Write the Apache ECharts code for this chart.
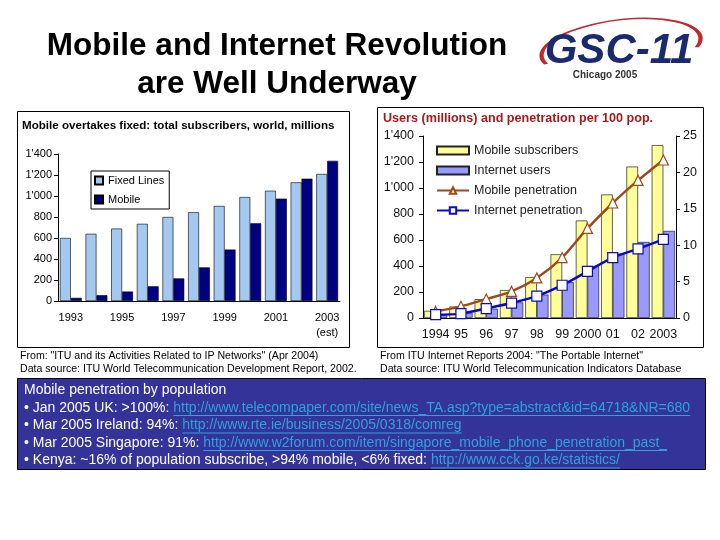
<!DOCTYPE html>
<html><head><meta charset="utf-8">
<script src="https://cdn.jsdelivr.net/npm/echarts@6/dist/echarts.min.js"></script>
<style>html,body{margin:0;padding:0;background:#fff}#c{width:720px;height:540px}</style>
</head><body><div id="c"></div>
<script>
// ---- Left chart data ----
const leftYears = ['1993','1994','1995','1996','1997','1998','1999','2000','2001','2002','2003'];
const fixedLines = [600,640,690,735,800,845,905,990,1050,1130,1210];
const mobileWorld = [30,55,90,140,215,320,490,740,975,1165,1335];
// ---- Right chart data ----
const rightYears = ['1994','95','96','97','98','99','2000','01','02','2003'];
const mobileSubs = [55,88,145,215,315,490,750,950,1165,1330];
const internetUsers = [22,40,72,120,180,275,400,495,585,670];
const mobilePen = [0.9,1.6,2.6,3.65,5.5,8.3,12.3,15.8,18.9,21.7];
const internetPen = [0.45,0.6,1.3,2.05,3.0,4.5,6.4,8.3,9.5,10.8];
// ---- Texts ----
const bulletLines = [
  ['• Jan 2005 UK: >100%: ', 'http://www.telecompaper.com/site/news_TA.asp?type=abstract&id=64718&NR=680'],
  ['• Mar 2005 Ireland: 94%: ', 'http://www.rte.ie/business/2005/0318/comreg'],
  ['• Mar 2005 Singapore: 91%: ', 'http://www.w2forum.com/item/singapore_mobile_phone_penetration_past_'],
  ['• Kenya: ~16% of population subscribe, >94% mobile, <6% fixed: ', 'http://www.cck.go.ke/statistics/']
];

const FF = "'Liberation Sans', Arial, sans-serif";
const fmtK = v => { const s = String(v); return s.length > 3 ? s.slice(0, s.length-3) + "'" + s.slice(-3) : s; };

const mc = document.createElement('canvas').getContext('2d');
function tw(t, font){ mc.font = font; return mc.measureText(t).width; }

const graphic = [];
function txt(x, y, text, font, fill, align){
  graphic.push({type:'text', silent:true, style:{x:x, y:y, text:text, font:font, fill:fill||'#000',
    textAlign:align||'left', align:align||'left', textVerticalAlign:'middle', verticalAlign:'middle'}});
}
// slide title
txt(277, 46, 'Mobile and Internet Revolution', 'bold 31.5px ' + FF, '#000', 'center');
txt(277, 84, 'are Well Underway', 'bold 31.5px ' + FF, '#000', 'center');
// logo
graphic.push({type:'arc', silent:true, x:621, y:47, rotation:0.12, scaleY:0.34,
  shape:{cx:0, cy:0, r:80, startAngle:Math.PI-0.3, endAngle:2*Math.PI+0.35, clockwise:true},
  style:{stroke:'#c0282d', lineWidth:2.5, fill:null, strokeNoScale:true}});
txt(619, 51, 'GSC-11', 'italic bold 42px ' + FF, '#1b2a6e', 'center');
txt(605, 75, 'Chicago 2005', 'bold 10px ' + FF, '#333', 'center');
// chart boxes
graphic.push({type:'rect', silent:true, shape:{x:17.5, y:111.5, width:332, height:236}, style:{fill:null, stroke:'#000', lineWidth:1}});
graphic.push({type:'rect', silent:true, shape:{x:377.5, y:107.5, width:326, height:240}, style:{fill:null, stroke:'#000', lineWidth:1}});
txt(22, 126, 'Mobile overtakes fixed: total subscribers, world, millions', 'bold 11.6px ' + FF, '#000');
txt(383, 119, 'Users (millions) and penetration per 100 pop.', 'bold 12.6px ' + FF, '#a01c1c');
// sources
const SF = '10.6px ' + FF;
txt(20, 356, 'From: "ITU and its Activities Related to IP Networks" (Apr 2004)', SF, '#000');
txt(20, 369, 'Data source: ITU World Telecommunication Development Report, 2002.', SF, '#000');
txt(380, 356, 'From ITU Internet Reports 2004: "The Portable Internet"', SF, '#000');
txt(380, 369, 'Data source: ITU World Telecommunication Indicators Database', SF, '#000');
// blue box
graphic.push({type:'rect', silent:true, shape:{x:17.5, y:378.5, width:688, height:91}, style:{fill:'#333399', stroke:'#000', lineWidth:1}});
const BF = '14px ' + FF;
txt(24, 390, 'Mobile penetration by population', BF, '#fff');
bulletLines.forEach((ln, i) => {
  const y = 408 + i*17.5;
  const x0 = 24;
  const w1 = tw(ln[0], BF);
  const w2 = tw(ln[1], BF);
  txt(x0, y, ln[0], BF, '#fff');
  txt(x0 + w1, y, ln[1], BF, '#2fa3d6');
  graphic.push({type:'line', silent:true, shape:{x1:x0+w1, y1:y+7.5, x2:x0+w1+w2, y2:y+7.5}, style:{stroke:'#2fa3d6', lineWidth:1}});
});

const axisBlack = {lineStyle:{color:'#000', width:1}};
const option = {
  animation:false,
  backgroundColor:'#fff',
  textStyle:{fontFamily:FF},
  grid:[
    {left:58, top:154, width:282, height:147},
    {left:423, top:136, width:253, height:182}
  ],
  legend:[
    {data:[{name:'Fixed Lines', icon:'rect'},{name:'Mobile', icon:'rect'}], left:91, top:171, orient:'vertical', borderColor:'#000', borderWidth:1,
     padding:[4,5,4,3], itemWidth:8, itemHeight:8, itemGap:8, textStyle:{fontSize:11, color:'#000', fontFamily:FF}},
    {data:[{name:'Mobile subscribers', icon:'rect'},{name:'Internet users', icon:'rect'},'Mobile penetration','Internet penetration'], left:431, top:139,
     orient:'vertical', itemWidth:32, itemHeight:8, itemGap:7, textStyle:{fontSize:12.5, color:'#222', fontFamily:FF}}
  ],
  xAxis:[
    {type:'category', gridIndex:0, data:leftYears, axisLine:axisBlack,
     axisTick:{interval:1, length:4, lineStyle:{color:'#000'}},
     axisLabel:{interval:1, margin:9, fontSize:11, color:'#000', lineHeight:15,
       formatter:v => v === '2003' ? '2003\n(est)' : v}},
    {type:'category', gridIndex:1, data:rightYears, axisLine:axisBlack,
     axisTick:{interval:0, length:4, lineStyle:{color:'#000'}},
     axisLabel:{interval:0, margin:10, fontSize:12.5, color:'#111'}}
  ],
  yAxis:[
    {type:'value', gridIndex:0, min:0, max:1400, interval:200, splitLine:{show:false},
     axisLine:{show:true, lineStyle:{color:'#000'}}, axisTick:{show:true, length:4, lineStyle:{color:'#000'}},
     axisLabel:{margin:6, fontSize:11, color:'#000', formatter:fmtK}},
    {type:'value', gridIndex:1, min:0, max:1400, interval:200, splitLine:{show:false},
     axisLine:{show:true, lineStyle:{color:'#000'}}, axisTick:{show:true, length:4, lineStyle:{color:'#000'}},
     axisLabel:{margin:9, fontSize:12.5, color:'#111', formatter:fmtK}},
    {type:'value', gridIndex:1, position:'right', min:0, max:25, interval:5, splitLine:{show:false},
     axisLine:{show:true, lineStyle:{color:'#000'}}, axisTick:{show:true, length:4, lineStyle:{color:'#000'}},
     axisLabel:{margin:7, fontSize:12.5, color:'#111'}}
  ],
  series:[
    {name:'Fixed Lines', type:'bar', xAxisIndex:0, yAxisIndex:0, data:fixedLines, barGap:'0%', barCategoryGap:'15%',
     itemStyle:{color:'#a4c8f0', borderColor:'#000', borderWidth:0.6}},
    {name:'Mobile', type:'bar', xAxisIndex:0, yAxisIndex:0, data:mobileWorld, barGap:'0%', barCategoryGap:'15%',
     itemStyle:{color:'#000080', borderColor:'#000', borderWidth:0.6}},
    {name:'Mobile subscribers', type:'bar', xAxisIndex:1, yAxisIndex:1, data:mobileSubs, barGap:'0%', barCategoryGap:'8%',
     itemStyle:{color:'#ffff99', borderColor:'#222', borderWidth:0.7}},
    {name:'Internet users', type:'bar', xAxisIndex:1, yAxisIndex:1, data:internetUsers, barGap:'0%', barCategoryGap:'8%',
     itemStyle:{color:'#9999ff', borderColor:'#222', borderWidth:0.7}},
    {name:'Mobile penetration', type:'line', xAxisIndex:1, yAxisIndex:2, data:mobilePen, smooth:0.3, z:5,
     symbol:'triangle', symbolSize:10, showAllSymbol:true,
     lineStyle:{color:'#9c4a1a', width:2.5}, itemStyle:{color:'#fff', borderColor:'#9c4a1a', borderWidth:1.2}},
    {name:'Internet penetration', type:'line', xAxisIndex:1, yAxisIndex:2, data:internetPen, smooth:0.3, z:5,
     symbol:'rect', symbolSize:10, showAllSymbol:true,
     lineStyle:{color:'#0a0ac8', width:2.5}, itemStyle:{color:'#fff', borderColor:'#0a0ac8', borderWidth:1.2}}
  ],
  graphic:graphic
};
const chart = echarts.init(document.getElementById('c'), null, {renderer:'canvas'});
chart.setOption(option);
</script>
</body></html>
